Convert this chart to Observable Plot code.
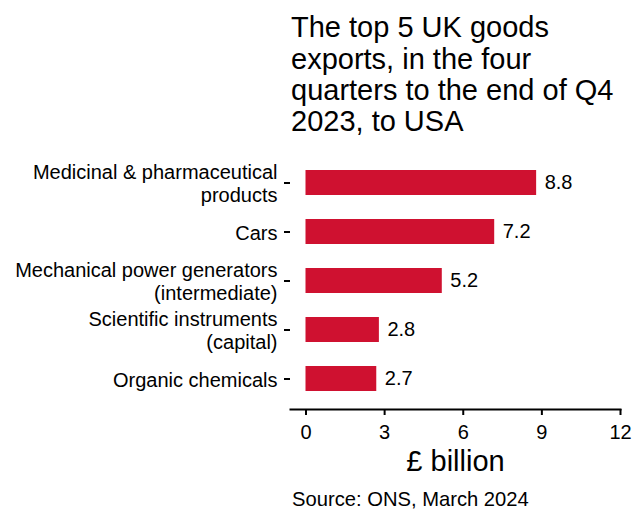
<!DOCTYPE html>
<html><head><meta charset="utf-8">
<script src="https://cdn.jsdelivr.net/npm/d3@7"></script>
<script src="https://cdn.jsdelivr.net/npm/@observablehq/plot@0.6"></script>
<style>
html,body{margin:0;padding:0;background:#fff;overflow:hidden;}
body{width:633px;height:509px;font-family:"Liberation Sans",Arial,sans-serif;color:#000;}
#title{margin:0 0 0 291px;padding-top:12.4px;font-size:29px;line-height:31.2px;height:124.6px;white-space:nowrap;font-weight:normal}
#chart svg{display:block}
#source{margin:6.8px 0 0 292px;font-size:20.2px;line-height:20px;white-space:nowrap}
</style></head><body>
<div id="title">The top 5 UK goods<br>exports, in the four<br>quarters to the end of Q4<br>2023, to USA</div>
<div id="chart"></div>
<div id="source">Source: ONS, March 2024</div>
<script>
const categories = ["Medicinal & pharmaceutical\nproducts", "Cars", "Mechanical power generators\n(intermediate)", "Scientific instruments\n(capital)", "Organic chemicals"];
const values = [8.8, 7.2, 5.2, 2.8, 2.7];
const valueLabels = ["8.8", "7.2", "5.2", "2.8", "2.7"];
const xTicks = [0, 3, 6, 9, 12];
const xLabel = "£ billion";
const data = categories.map((c, i) => ({category: c, value: values[i], label: valueLabels[i]}));
const plot = Plot.plot({
  width: 633, height: 345, marginLeft: 290, marginRight: 13, marginTop: 15, marginBottom: 73,
  style: {fontFamily: "Liberation Sans, Arial, sans-serif", fontSize: "20px", color: "#000", background: "#fff"},
  x: {domain: [0, 12], insetLeft: 15.5, ticks: xTicks},
  y: {domain: categories, paddingInner: 0.5, paddingOuter: 0.343},
  marks: [
    Plot.barX(data, {x: "value", y: "category", fill: "#CF1130"}),
    Plot.text(data, {x: "value", y: "category", text: "label", textAnchor: "start", dx: 8, fontSize: 20, fill: "#000"}),
    Plot.axisY({tickSize: 6, tickPadding: 7, strokeWidth: 2, fontSize: 20, lineHeight: 1.17, label: null, textAnchor: "end"}),
    Plot.axisX({ticks: xTicks, tickSize: 6, tickPadding: 9, strokeWidth: 2, fontSize: 20, label: null}),
    Plot.frame({anchor: "bottom", strokeWidth: 2}),
    Plot.text([xLabel], {frameAnchor: "bottom", dy: 52.4, fontSize: 29, lineAnchor: "middle", fill: "#000"})
  ]
});
document.getElementById("chart").appendChild(plot);
</script>
</body></html>
